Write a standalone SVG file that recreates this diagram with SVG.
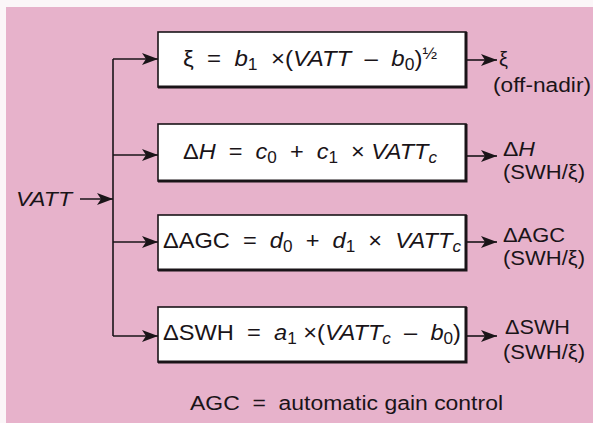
<svg xmlns="http://www.w3.org/2000/svg" width="593" height="423" viewBox="0 0 593 423">
<style>
text{font-family:"Liberation Sans",Arial,sans-serif;fill:#1a1418}
.f{font-size:22px}
.o{font-size:20px}
.i{font-style:italic}
.s{font-size:16px}
.box{fill:#fff;stroke:#1a1418;stroke-width:1.6}
.sh{fill:none;stroke:#1a1418;stroke-width:3}
.ln{fill:none;stroke:#1a1418;stroke-width:1.6}
</style>
<defs>
<marker id="ah" markerUnits="userSpaceOnUse" markerWidth="16" markerHeight="12" refX="16" refY="6" orient="auto">
<path d="M0,0 L16,6 L0,12 L4,6 Z" fill="#1a1418"/>
</marker>
</defs>
<rect x="0" y="0" width="593" height="423" fill="#fbf6f8"/>
<rect x="6" y="7" width="587" height="416" fill="#e7b2cb"/>

<g id="connectors">
<path class="ln" d="M113,59 V336"/>
<path class="ln" d="M80,199 H113" marker-end="url(#ah)"/>
<path class="ln" d="M113,59 H158" marker-end="url(#ah)"/>
<path class="ln" d="M113,155 H158" marker-end="url(#ah)"/>
<path class="ln" d="M113,242 H158" marker-end="url(#ah)"/>
<path class="ln" d="M113,336 H158" marker-end="url(#ah)"/>
<path class="ln" d="M467,60 H497" marker-end="url(#ah)"/>
<path class="ln" d="M467,156 H497" marker-end="url(#ah)"/>
<path class="ln" d="M467,242 H497" marker-end="url(#ah)"/>
<path class="ln" d="M467,336 H497" marker-end="url(#ah)"/>
</g>

<g id="input">
<text class="o i" x="16" y="206" textLength="56" lengthAdjust="spacingAndGlyphs">VATT</text>
</g>

<g id="box1">
<rect class="box" x="158" y="32" width="308" height="55"/>
<path class="sh" d="M158,87 H466 V32"/>
<text class="f" x="183" y="66" textLength="254" lengthAdjust="spacingAndGlyphs" xml:space="preserve">ξ  =  <tspan class="i">b</tspan><tspan class="s" dy="4">1</tspan><tspan dy="-4">  ×(</tspan><tspan class="i">VATT</tspan>  –  <tspan class="i">b</tspan><tspan class="s" dy="4">0</tspan><tspan dy="-4">)</tspan><tspan class="s" dy="-7">½</tspan></text>
</g>

<g id="box2">
<rect class="box" x="158" y="124" width="308" height="57"/>
<path class="sh" d="M158,181 H466 V124"/>
<text class="f" x="183" y="159" textLength="254" lengthAdjust="spacingAndGlyphs" xml:space="preserve">Δ<tspan class="i">H</tspan>  =  <tspan class="i">c</tspan><tspan class="s" dy="4">0</tspan><tspan dy="-4">  +  </tspan><tspan class="i">c</tspan><tspan class="s" dy="4">1</tspan><tspan dy="-4">  × </tspan><tspan class="i">VATT</tspan><tspan class="s i" dy="4">c</tspan></text>
</g>

<g id="box3">
<rect class="box" x="158" y="215" width="308" height="55"/>
<path class="sh" d="M158,270 H466 V215"/>
<text class="f" x="163" y="248" textLength="298" lengthAdjust="spacingAndGlyphs" xml:space="preserve">ΔAGC  =  <tspan class="i">d</tspan><tspan class="s" dy="4">0</tspan><tspan dy="-4">  +  </tspan><tspan class="i">d</tspan><tspan class="s" dy="4">1</tspan><tspan dy="-4">  ×  </tspan><tspan class="i">VATT</tspan><tspan class="s i" dy="4">c</tspan></text>
</g>

<g id="box4">
<rect class="box" x="158" y="307" width="308" height="55"/>
<path class="sh" d="M158,362 H466 V307"/>
<text class="f" x="163" y="340" textLength="298" lengthAdjust="spacingAndGlyphs" xml:space="preserve">ΔSWH  =  <tspan class="i">a</tspan><tspan class="s" dy="4">1</tspan><tspan dy="-4"> ×(</tspan><tspan class="i">VATT</tspan><tspan class="s i" dy="4">c</tspan><tspan dy="-4">  –  </tspan><tspan class="i">b</tspan><tspan class="s" dy="4">0</tspan><tspan dy="-4">)</tspan></text>
</g>

<g id="out1">
<text class="o" x="499" y="66">ξ</text>
<text class="o" x="493" y="92" textLength="98" lengthAdjust="spacingAndGlyphs">(off-nadir)</text>
</g>
<g id="out2">
<text class="o" x="503" y="156" textLength="32" lengthAdjust="spacingAndGlyphs">Δ<tspan class="i">H</tspan></text>
<text class="o" x="503" y="179" textLength="82" lengthAdjust="spacingAndGlyphs">(SWH/ξ)</text>
</g>
<g id="out3">
<text class="o" x="503" y="242" textLength="62" lengthAdjust="spacingAndGlyphs">ΔAGC</text>
<text class="o" x="503" y="265" textLength="82" lengthAdjust="spacingAndGlyphs">(SWH/ξ)</text>
</g>
<g id="out4">
<text class="o" x="505" y="334" textLength="65" lengthAdjust="spacingAndGlyphs">ΔSWH</text>
<text class="o" x="503" y="359" textLength="82" lengthAdjust="spacingAndGlyphs">(SWH/ξ)</text>
</g>

<g id="note">
<text class="o" x="190" y="410" font-size="20" textLength="313" lengthAdjust="spacingAndGlyphs" xml:space="preserve">AGC  =  automatic gain control</text>
</g>
</svg>
